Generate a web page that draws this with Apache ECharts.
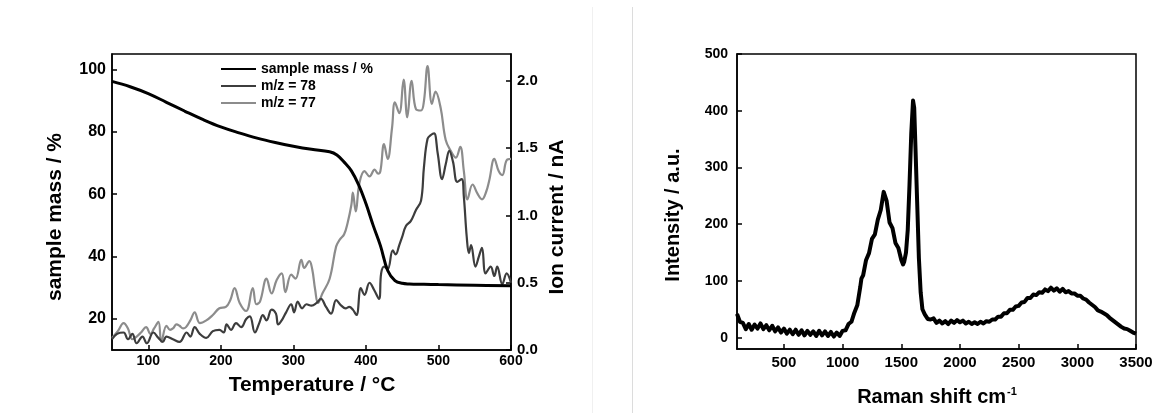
<!DOCTYPE html>
<html>
<head>
<meta charset="utf-8">
<script src="https://cdn.jsdelivr.net/npm/echarts@6/dist/echarts.min.js"></script>
<style>html,body{margin:0;padding:0;background:#fff}#c{width:1163px;height:413px}</style>
</head>
<body>
<div id="c"></div>
<script>
// ---- TGA / MS data ----
const tgaTemp = [50,75,100,125,150,175,200,225,250,275,300,325,350,360,370,380,390,400,410,420,430,440,450,460,480,500,550,600];
const tgaMass = [96.2,94.5,92.3,89.5,86.7,84,81.6,79.7,78,76.6,75.4,74.4,73.6,72.6,70.3,67.5,63,57,50,43.5,35.5,32.3,31.4,31.2,31.1,31,30.8,30.6];

const mz78Temp = [50,57,66,72,78,84,92,98,107,114,120,125,134,143,153,158,164,171,180,189,198,204,208,214,221,228,235,240,247,253,258,263,270,276,279,285,290,297,301,306,312,318,325,332,338,345,352,359,366,372,377,382,387,393,398,405,411,418,421,425,430,437,441,446,450,455,462,469,476,480,485,490,494,499,505,510,515,520,526,532,535,539,542,545,551,556,560,565,572,577,581,588,594,600];
const mz78Current = [0.08,0.12,0.13,0.08,0.12,0.05,0.1,0.05,0.13,0.09,0.06,0.1,0.08,0.06,0.13,0.1,0.17,0.12,0.09,0.14,0.15,0.13,0.19,0.15,0.2,0.17,0.23,0.25,0.13,0.2,0.26,0.22,0.3,0.27,0.19,0.23,0.28,0.34,0.28,0.36,0.31,0.34,0.33,0.35,0.38,0.32,0.27,0.37,0.33,0.31,0.32,0.3,0.26,0.46,0.41,0.5,0.45,0.38,0.57,0.62,0.6,0.74,0.71,0.78,0.84,0.92,0.96,1.04,1.11,1.36,1.57,1.6,1.61,1.46,1.27,1.38,1.48,1.4,1.25,1.27,1.14,0.84,0.72,0.78,0.62,0.7,0.76,0.57,0.62,0.55,0.62,0.49,0.57,0.5];

const mz77Temp = [50,58,66,72,78,84,90,97,103,108,114,118,125,130,134,139,143,148,152,158,164,171,180,189,198,207,213,219,226,235,244,249,254,263,270,277,284,289,297,303,311,315,322,326,330,334,340,350,359,364,370,375,380,382,386,391,398,405,412,417,420,425,430,436,440,446,452,457,463,469,476,480,485,491,496,503,510,517,524,530,535,540,547,554,560,566,570,577,583,588,594,600];
const mz77Current = [0.09,0.14,0.2,0.16,0.08,0.1,0.13,0.17,0.12,0.16,0.21,0.06,0.18,0.15,0.16,0.19,0.18,0.16,0.17,0.22,0.28,0.2,0.22,0.26,0.31,0.32,0.37,0.46,0.35,0.29,0.46,0.34,0.36,0.53,0.42,0.52,0.57,0.43,0.56,0.53,0.67,0.61,0.66,0.6,0.45,0.35,0.42,0.53,0.77,0.82,0.86,0.95,1.08,1.17,1.03,1.24,1.33,1.29,1.34,1.31,1.33,1.53,1.42,1.65,1.84,1.76,2.01,1.73,2.0,1.79,1.78,1.85,2.11,1.83,1.92,1.8,1.56,1.48,1.43,1.51,1.33,1.12,1.23,1.16,1.12,1.18,1.26,1.42,1.33,1.3,1.41,1.42];

// ---- Raman data ----
const ramanShift = [100,125,150,175,200,225,250,275,300,325,350,375,400,425,450,475,500,525,550,575,600,625,650,675,700,725,750,775,800,825,850,875,900,925,950,975,1000,1025,1050,1075,1100,1125,1150,1160,1175,1200,1225,1250,1275,1300,1325,1350,1360,1375,1400,1425,1450,1475,1500,1515,1525,1540,1555,1570,1585,1600,1610,1620,1635,1650,1665,1680,1700,1725,1750,1775,1800,1825,1850,1875,1900,1925,1950,1975,2000,2025,2050,2075,2100,2125,2150,2175,2200,2225,2250,2275,2300,2325,2350,2375,2400,2425,2450,2475,2500,2525,2550,2575,2600,2625,2650,2675,2700,2725,2750,2775,2800,2825,2850,2875,2900,2925,2950,2975,3000,3025,3050,3075,3100,3125,3150,3175,3200,3225,3250,3275,3300,3325,3350,3375,3400,3425,3450,3475,3500];
const ramanIntensity = [42,28,26,15,24,14,23,16,25,15,22,13,21,11,18,9,16,7,14,6,14,5,13,4,12,5,11,3,12,4,11,3,10,2,9,3,12,13,24,28,44,57,89,104,110,137,149,174,182,208,225,257,258,241,203,193,167,158,137,129,134,150,190,270,360,418,405,340,240,140,80,50,41,33,32,34,26,30,25,29,24,30,26,31,27,30,25,28,24,27,24,28,25,29,28,32,32,37,37,43,43,49,49,55,56,62,63,70,70,76,75,80,79,85,82,88,83,87,81,86,80,82,78,78,74,74,69,67,62,58,54,48,46,43,40,35,31,27,23,19,16,15,12,9,7,5,1];

const tickTemp = [100,200,300,400,500,600];
const tickMass = [20,40,60,80,100];
const tickCurrent = [0,0.5,1,1.5,2];
const tickShift = [500,1000,1500,2000,2500,3000,3500];
const tickIntensity = [0,100,200,300,400,500];

const zip = (a, b) => a.map((v, i) => [v, b[i]]);
const FONT = 'Liberation Sans, Arial, sans-serif';
const axLine = {show: true, onZero: false, lineStyle: {color: '#000', width: 1.5}};
const plain = v => String(v);
const lab = (vals, size, margin, fmt) => ({customValues: vals, color: '#000', fontWeight: 'bold', fontFamily: FONT, fontSize: size, margin: margin, formatter: fmt || plain});
const tick = (vals) => ({show: true, inside: true, length: 5, customValues: vals, lineStyle: {color: '#000', width: 1.5}});

const chart = echarts.init(document.getElementById('c'), null, {renderer: 'canvas'});
chart.setOption({
  backgroundColor: '#fff',
  animation: false,
  grid: [
    {left: 112, top: 54, width: 399, height: 296, show: true, borderColor: '#000', borderWidth: 1.5},
    {left: 737, top: 54, width: 399, height: 295, show: true, borderColor: '#000', borderWidth: 1.5}
  ],
  xAxis: [
    {type: 'value', gridIndex: 0, min: 50, max: 600, axisLine: axLine, axisTick: tick(tickTemp), axisLabel: lab(tickTemp, 14, 4), splitLine: {show: false}},
    {type: 'value', gridIndex: 1, min: 100, max: 3500, axisLine: axLine, axisTick: tick(tickShift), axisLabel: lab(tickShift, 15, 6), splitLine: {show: false}}
  ],
  yAxis: [
    {type: 'value', gridIndex: 0, min: 10, max: 105, axisLine: axLine, axisTick: tick(tickMass), axisLabel: lab(tickMass, 16, 6), splitLine: {show: false}},
    {type: 'value', gridIndex: 0, position: 'right', min: 0, max: 2.2, axisLine: axLine, axisTick: tick(tickCurrent), axisLabel: lab(tickCurrent, 15, 6, v => v.toFixed(1)), splitLine: {show: false}},
    {type: 'value', gridIndex: 1, min: -20, max: 500, axisLine: axLine, axisTick: tick(tickIntensity), axisLabel: lab(tickIntensity, 14, 9), splitLine: {show: false}}
  ],
  legend: {
    data: ['sample mass / %', 'm/z = 78', 'm/z = 77'],
    itemStyle: {opacity: 0},
    padding: 0,
    orient: 'vertical', left: 220, top: 62, itemWidth: 35, itemHeight: 14, itemGap: 3,
    textStyle: {color: '#000', fontWeight: 'bold', fontSize: 14, fontFamily: FONT}
  },
  series: [
    {name: 'm/z = 77', type: 'line', xAxisIndex: 0, yAxisIndex: 1, data: zip(mz77Temp, mz77Current), smooth: 0.4, symbol: 'none', lineStyle: {color: '#8c8c8c', width: 2.2}, itemStyle: {color: '#8c8c8c'}, z: 2},
    {name: 'm/z = 78', type: 'line', xAxisIndex: 0, yAxisIndex: 1, data: zip(mz78Temp, mz78Current), smooth: 0.4, symbol: 'none', lineStyle: {color: '#3d3d3d', width: 2.2}, itemStyle: {color: '#3d3d3d'}, z: 3},
    {name: 'sample mass / %', type: 'line', xAxisIndex: 0, yAxisIndex: 0, data: zip(tgaTemp, tgaMass), smooth: 0.4, symbol: 'none', lineStyle: {color: '#000', width: 3}, itemStyle: {color: '#000'}, z: 4},
    {name: 'raman', type: 'line', xAxisIndex: 1, yAxisIndex: 2, data: zip(ramanShift, ramanIntensity), smooth: false, symbol: 'none', lineStyle: {color: '#000', width: 4, join: 'round'}, itemStyle: {color: '#000'}}
  ],
  graphic: [
    {type: 'line', shape: {x1: 592.5, y1: 7, x2: 592.5, y2: 413}, style: {stroke: '#f0f0f0', lineWidth: 1}, silent: true},
    {type: 'line', shape: {x1: 632.5, y1: 7, x2: 632.5, y2: 413}, style: {stroke: '#dcdcdc', lineWidth: 1}, silent: true},
    {type: 'text', x: 55, y: 217, rotation: Math.PI / 2, style: {text: 'sample mass / %', fill: '#000', font: 'bold 21px ' + FONT, textAlign: 'center', textVerticalAlign: 'middle'}},
    {type: 'text', x: 312, y: 385, style: {text: 'Temperature / °C', fill: '#000', font: 'bold 21px ' + FONT, textAlign: 'center', textVerticalAlign: 'middle'}},
    {type: 'text', x: 557, y: 217, rotation: Math.PI / 2, style: {text: 'Ion current / nA', fill: '#000', font: 'bold 21px ' + FONT, textAlign: 'center', textVerticalAlign: 'middle'}},
    {type: 'text', x: 673, y: 215, rotation: Math.PI / 2, style: {text: 'Intensity / a.u.', fill: '#000', font: 'bold 20px ' + FONT, textAlign: 'center', textVerticalAlign: 'middle'}},
    {type: 'text', x: 937, y: 397, style: {text: '{a|Raman shift cm}{s|-1}', textAlign: 'center', textVerticalAlign: 'middle',
      rich: {a: {fill: '#000', fontWeight: 'bold', fontSize: 20, fontFamily: FONT, color: '#000'}, s: {fill: '#000', color: '#000', fontWeight: 'bold', fontSize: 11, fontFamily: FONT, verticalAlign: 'top', padding: [0, 0, 10, 1]}}}}
  ]
});
</script>
</body>
</html>
